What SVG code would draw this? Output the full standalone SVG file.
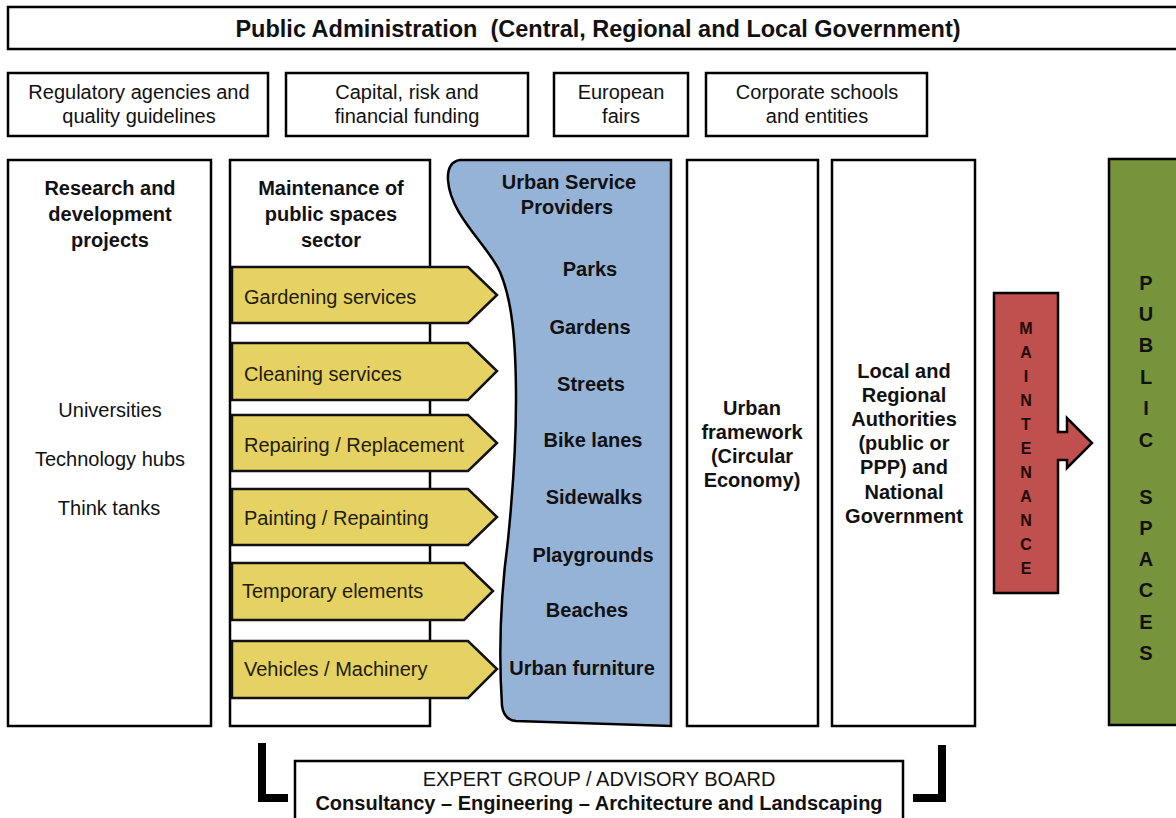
<svg xmlns="http://www.w3.org/2000/svg" width="1176" height="818" viewBox="0 0 1176 818">
  <style>
    .box { fill: #ffffff; stroke: #000; stroke-width: 2.5; }
    .svc { fill: #e6d262; stroke: #111; stroke-width: 2.5; stroke-linejoin: miter; }
    .t { font-family: "Liberation Sans", Arial, sans-serif; font-size: 20px; fill: #111; text-anchor: middle; }
    .b { font-weight: bold; }
    .l { text-anchor: start; fill: #221c05; }
    .title { font-size: 23.5px; font-weight: bold; }
    .v { font-size: 16px; font-weight: bold; fill: #1e0808; }
    .vg { font-size: 20px; font-weight: bold; }
  </style>
  <rect width="1176" height="818" fill="#ffffff"/>

  <!-- top banner -->
  <g id="public-administration">
    <rect class="box" x="8" y="7" width="1180" height="42"/>
    <text class="t title" x="598" y="37">Public Administration &#160;(Central, Regional and Local Government)</text>
  </g>

  <!-- second row -->
  <g id="regulatory">
    <rect class="box" x="8" y="73" width="260" height="63"/>
    <text class="t" x="139" y="99">Regulatory agencies and</text>
    <text class="t" x="139" y="123">quality guidelines</text>
  </g>
  <g id="funding">
    <rect class="box" x="286" y="73" width="242" height="63"/>
    <text class="t" x="407" y="99">Capital, risk and</text>
    <text class="t" x="407" y="123">financial funding</text>
  </g>
  <g id="fairs">
    <rect class="box" x="554" y="73" width="134" height="63"/>
    <text class="t" x="621" y="99">European</text>
    <text class="t" x="621" y="123">fairs</text>
  </g>
  <g id="corporate">
    <rect class="box" x="706" y="73" width="221" height="63"/>
    <text class="t" x="817" y="99">Corporate schools</text>
    <text class="t" x="817" y="123">and entities</text>
  </g>

  <!-- research column -->
  <g id="research">
    <rect class="box" x="8" y="160" width="203" height="566"/>
    <text class="t b" x="110" y="195">Research and</text>
    <text class="t b" x="110" y="221">development</text>
    <text class="t b" x="110" y="247">projects</text>
    <text class="t" x="110" y="417">Universities</text>
    <text class="t" x="110" y="466">Technology hubs</text>
    <text class="t" x="109" y="515">Think tanks</text>
  </g>

  <!-- maintenance sector column -->
  <g id="sector">
    <rect class="box" x="230" y="160" width="200" height="566"/>
    <text class="t b" x="331" y="195">Maintenance of</text>
    <text class="t b" x="331" y="221">public spaces</text>
    <text class="t b" x="331" y="247">sector</text>
  </g>

  <!-- urban service providers -->
  <g id="providers">
    <path d="M 460,160 L 671,160 L 671,726 L 516,721 Q 504,720 502,706 C 499,660 500,600 508,540 C 513,490 516,450 516,400 C 516,340 512,300 500,272 C 488,245 450,215 448,180 Q 447,162 460,160 Z" fill="#95b3d7" stroke="#000" stroke-width="2.5"/>
    <text class="t b" x="569" y="189">Urban Service</text>
    <text class="t b" x="567" y="214">Providers</text>
    <text class="t b" x="590" y="276">Parks</text>
    <text class="t b" x="590" y="334">Gardens</text>
    <text class="t b" x="591" y="391">Streets</text>
    <text class="t b" x="593" y="447">Bike lanes</text>
    <text class="t b" x="594" y="504">Sidewalks</text>
    <text class="t b" x="593" y="562">Playgrounds</text>
    <text class="t b" x="587" y="617">Beaches</text>
    <text class="t b" x="582" y="675">Urban furniture</text>
  </g>

  <!-- service chevrons -->
  <g id="gardening">
    <polygon class="svc" points="232,267 468,267 497,295 468,323 232,323"/>
    <text class="t l" x="244" y="304">Gardening services</text>
  </g>
  <g id="cleaning">
    <polygon class="svc" points="232,343 468,343 497,371 468,400 232,400"/>
    <text class="t l" x="244" y="381">Cleaning services</text>
  </g>
  <g id="repairing">
    <polygon class="svc" points="232,415 468,415 497,443 468,471 232,471"/>
    <text class="t l" x="244" y="452">Repairing / Replacement</text>
  </g>
  <g id="painting">
    <polygon class="svc" points="232,489 468,489 497,517 468,545 232,545"/>
    <text class="t l" x="244" y="525">Painting / Repainting</text>
  </g>
  <g id="temporary">
    <polygon class="svc" points="232,563 464,563 493,591 464,620 232,620"/>
    <text class="t l" x="242" y="598">Temporary elements</text>
  </g>
  <g id="vehicles">
    <polygon class="svc" points="232,641 468,641 497,669 468,698 232,698"/>
    <text class="t l" x="244" y="676">Vehicles / Machinery</text>
  </g>

  <!-- framework and authorities -->
  <g id="framework">
    <rect class="box" x="687" y="160" width="131" height="566"/>
    <text class="t b" x="752" y="415">Urban</text>
    <text class="t b" x="752" y="439">framework</text>
    <text class="t b" x="752" y="463">(Circular</text>
    <text class="t b" x="752" y="487">Economy)</text>
  </g>
  <g id="authorities">
    <rect class="box" x="832" y="160" width="143" height="566"/>
    <text class="t b" x="904" y="378">Local and</text>
    <text class="t b" x="904" y="402">Regional</text>
    <text class="t b" x="904" y="426">Authorities</text>
    <text class="t b" x="904" y="450">(public or</text>
    <text class="t b" x="904" y="474">PPP) and</text>
    <text class="t b" x="904" y="499">National</text>
    <text class="t b" x="904" y="523">Government</text>
  </g>

  <!-- maintenance arrow -->
  <g id="maintenance">
    <path d="M 994,293 L 1058,293 L 1058,432 L 1067,432 L 1067,418 L 1092,443 L 1067,468 L 1067,460 L 1058,460 L 1058,593 L 994,593 Z" fill="#c0504d" stroke="#000" stroke-width="2.5" stroke-linejoin="miter"/>
    <text class="t v" x="1026" y="334">M</text>
    <text class="t v" x="1026" y="358">A</text>
    <text class="t v" x="1026" y="382">I</text>
    <text class="t v" x="1026" y="406">N</text>
    <text class="t v" x="1026" y="430">T</text>
    <text class="t v" x="1026" y="454">E</text>
    <text class="t v" x="1026" y="478">N</text>
    <text class="t v" x="1026" y="502">A</text>
    <text class="t v" x="1026" y="526">N</text>
    <text class="t v" x="1026" y="550">C</text>
    <text class="t v" x="1026" y="574">E</text>
  </g>

  <!-- public spaces -->
  <g id="public-spaces">
    <rect x="1109" y="159" width="80" height="566" fill="#77933c" stroke="#000" stroke-width="2.5"/>
    <text class="t vg" x="1146" y="290">P</text>
    <text class="t vg" x="1146" y="321">U</text>
    <text class="t vg" x="1146" y="352">B</text>
    <text class="t vg" x="1146" y="384">L</text>
    <text class="t vg" x="1146" y="415">I</text>
    <text class="t vg" x="1146" y="447">C</text>
    <text class="t vg" x="1146" y="504">S</text>
    <text class="t vg" x="1146" y="535">P</text>
    <text class="t vg" x="1146" y="566">A</text>
    <text class="t vg" x="1146" y="597">C</text>
    <text class="t vg" x="1146" y="629">E</text>
    <text class="t vg" x="1146" y="660">S</text>
  </g>

  <!-- expert group -->
  <g id="expert-group">
    <rect class="box" x="295" y="761" width="608" height="70"/>
    <text class="t" x="599" y="786">EXPERT GROUP / ADVISORY BOARD</text>
    <text class="t b" x="599" y="810">Consultancy – Engineering – Architecture and Landscaping</text>
  </g>

  <!-- brackets framing the advisory board -->
  <g id="connectors" fill="none" stroke="#000" stroke-width="8" stroke-linecap="butt" stroke-linejoin="miter">
    <polyline points="262,743 262,798 288,798"/>
    <polyline points="913,798 942,798 942,745"/>
  </g>
</svg>
